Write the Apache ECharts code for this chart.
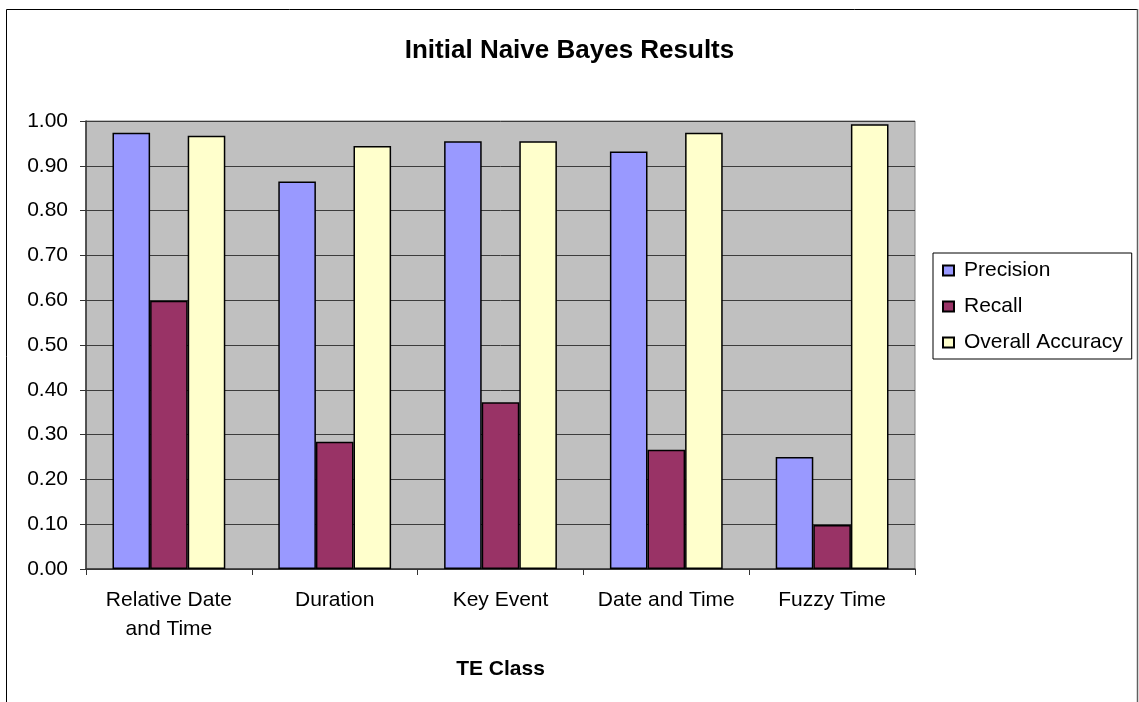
<!DOCTYPE html>
<html>
<head>
<meta charset="utf-8">
<style>
  html, body { margin: 0; padding: 0; background: #ffffff; }
  #chart { width: 1139px; height: 702px; }
</style>
<script src="https://cdn.jsdelivr.net/npm/echarts@6/dist/echarts.min.js"></script>
</head>
<body>
<div id="chart"></div>
<script>
// TE classes and the three scores measured for each
const categories = ['Relative Date\nand Time', 'Duration', 'Key Event', 'Date and Time', 'Fuzzy Time'];
const precision = [0.974, 0.865, 0.955, 0.932, 0.250];
const recall = [0.599, 0.284, 0.372, 0.266, 0.098];
const accuracy = [0.967, 0.944, 0.955, 0.974, 0.993];
const seriesNames = ['Precision', 'Recall', 'Overall Accuracy'];
const seriesColors = ['#9999ff', '#993366', '#ffffcc'];

const FONT = '"Liberation Sans", Arial, sans-serif';
const chart = echarts.init(document.getElementById('chart'), null, { renderer: 'canvas' });

function barSeries(name, data, color) {
  return {
    name: name,
    type: 'bar',
    data: data,
    barWidth: 37.6,
    barGap: '0%',
    itemStyle: { color: color, borderColor: '#000000', borderWidth: 1.5 },
    emphasis: { disabled: true }
  };
}

chart.setOption({
  animation: false,
  backgroundColor: '#ffffff',
  textStyle: { fontFamily: FONT },
  title: {
    text: 'Initial Naive Bayes Results',
    left: 'center',
    top: 33,
    textStyle: { fontFamily: FONT, fontSize: 26, fontWeight: 'bold', color: '#000000' }
  },
  legend: {
    orient: 'vertical',
    left: 933,
    top: 253,
    padding: [7, 9, 6, 9],
    itemGap: 15,
    itemWidth: 11,
    itemHeight: 10,
    icon: 'rect',
    borderColor: '#000000',
    borderWidth: 1,
    data: seriesNames,
    textStyle: { fontFamily: FONT, fontSize: 21, color: '#000000', padding: [0, 0, 0, 5] }
  },
  grid: {
    left: 86,
    right: 224,
    top: 121,
    bottom: 133,
    show: true,
    backgroundColor: '#c0c0c0',
    borderColor: '#808080',
    borderWidth: 1
  },
  xAxis: {
    type: 'category',
    data: categories,
    name: 'TE Class',
    nameLocation: 'middle',
    nameGap: 90,
    nameTextStyle: { fontFamily: FONT, fontSize: 21, fontWeight: 'bold', color: '#000000' },
    axisLine: { lineStyle: { color: '#333333', width: 1.5 } },
    axisTick: { show: true, length: 6, lineStyle: { color: '#333333' } },
    axisLabel: {
      fontFamily: FONT,
      fontSize: 21,
      color: '#000000',
      margin: 17,
      lineHeight: 29,
      interval: 0
    }
  },
  yAxis: {
    type: 'value',
    min: 0,
    max: 1,
    interval: 0.1,
    axisLine: { show: true, lineStyle: { color: '#333333', width: 1.5 } },
    axisTick: { show: true, length: 6, lineStyle: { color: '#333333' } },
    axisLabel: {
      fontFamily: FONT,
      fontSize: 21,
      color: '#000000',
      margin: 18,
      formatter: function (v) { return v.toFixed(2); }
    },
    splitLine: { show: true, lineStyle: { color: '#3c3c3c', width: 1 } }
  },
  graphic: [
    {
      type: 'polyline',
      silent: true,
      shape: { points: [[6.5, 720], [6.5, 9.5], [1137.5, 9.5]] },
      style: { stroke: '#000000', lineWidth: 1, fill: null }
    },
    {
      type: 'line',
      silent: true,
      shape: { x1: 1137.5, y1: 9, x2: 1137.5, y2: 720 },
      style: { stroke: '#606060', lineWidth: 1.5 }
    }
  ],
  series: [
    barSeries(seriesNames[0], precision, seriesColors[0]),
    barSeries(seriesNames[1], recall, seriesColors[1]),
    barSeries(seriesNames[2], accuracy, seriesColors[2])
  ]
});
</script>
</body>
</html>
